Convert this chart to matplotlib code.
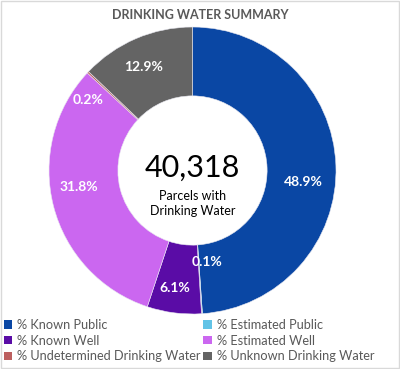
import numpy as np
import matplotlib.pyplot as plt
from matplotlib.patches import Rectangle

categories = ['% Known Public', '% Estimated Public', '% Known Well',
              '% Estimated Well', '% Undetermined Drinking Water',
              '% Unknown Drinking Water']
shares = [48.9, 0.1, 6.1, 31.8, 0.2, 12.9]
total_parcels = '40,318'
center_caption = 'Parcels with\nDrinking Water'
title = 'DRINKING WATER SUMMARY'

colors = ['#0A47A4', '#62C3E6', '#5A0CA6', '#CB67F0', '#BC5F5F', '#646464']

plt.rcParams['font.family'] = ['Lato', 'DejaVu Sans']

fig = plt.figure(figsize=(4.0, 3.69), dpi=100)
fig.patches.append(Rectangle((0.002, 0.002), 0.996, 0.996, transform=fig.transFigure,
                             fill=False, edgecolor='#D9D9D9', linewidth=1.0))

ax = fig.add_axes([49 / 400, (369 - 314) / 369, 287 / 400, 287 / 369])
wedges, _ = ax.pie(shares, colors=colors, startangle=90, counterclock=False,
                   radius=1.0, wedgeprops=dict(width=0.48, edgecolor='#E8E8F0', linewidth=0.4))
ax.set_xlim(-1, 1)
ax.set_ylim(-1, 1)
ax.set_aspect('equal')
ax.axis('off')

# label placement (radius, angle shift in degrees) per slice
label_r = [0.78, 0.645, 0.83, 0.80, 0.88, 0.80]
label_shift = [-8, 5, -1, -6, 9, 2]
cum = 0.0
for v, r, s in zip(shares, label_r, label_shift):
    mid = 90 - 360 * (cum + v / 2) / 100 + s
    cum += v
    a = np.deg2rad(mid)
    ax.text(r * np.cos(a), r * np.sin(a), f'{v:.1f}%', ha='center', va='center',
            color='white', fontsize=10, fontweight='bold')

ax.text(0, 0.02, total_parcels, ha='center', va='center', fontsize=22, color='black')
ax.text(0, -0.23, center_caption, ha='center', va='center', fontsize=9,
        color='black', linespacing=1.25)

fig.text(0.5, 1 - 15 / 369, title, ha='center', va='center', fontsize=9,
         fontweight='bold', color='#595959')

order = [0, 2, 4, 1, 3, 5]
leg = fig.legend([wedges[i] for i in order], [categories[i] for i in order],
                 ncol=2, loc='upper left', bbox_to_anchor=(0.0, 1 - 315 / 369),
                 frameon=False, fontsize=9.2, handlelength=0.65, handleheight=0.65,
                 handletextpad=0.4, columnspacing=0.2, labelspacing=0.3,
                 borderaxespad=0.0, borderpad=0.3)
for t in leg.get_texts():
    t.set_color('#595959')
for h in leg.legend_handles:
    h.set_edgecolor('none')

fig.savefig('out.png', dpi=100)
